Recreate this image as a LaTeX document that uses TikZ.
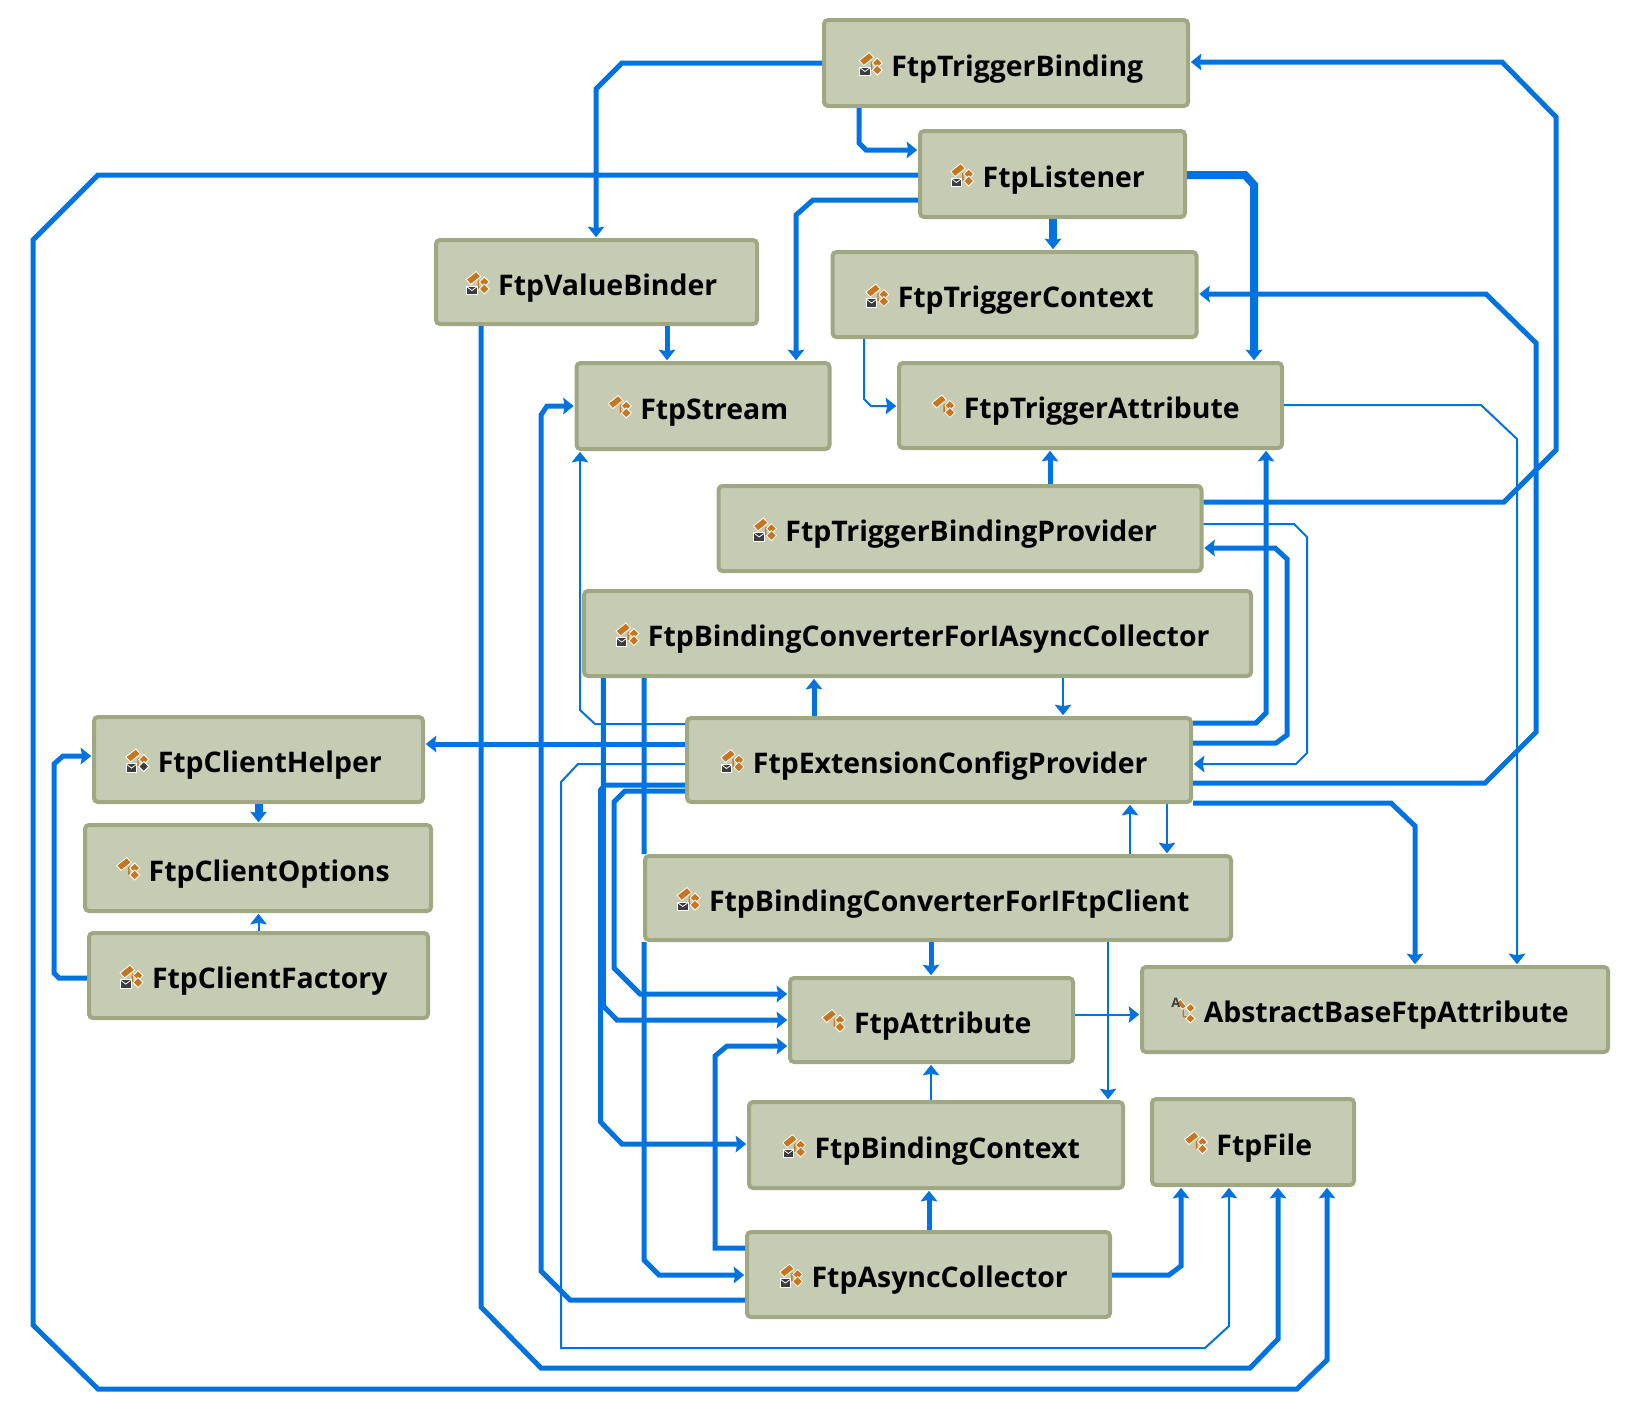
\documentclass[tikz,border=0pt]{standalone}
\usepackage{fontspec}
\setmainfont{Open Sans}
\usetikzlibrary{arrows.meta}
\definecolor{boxfill}{HTML}{C6CBB4}
\definecolor{boxline}{HTML}{A0A883}
\definecolor{linkblue}{HTML}{0073E0}
\definecolor{iconorange}{HTML}{C8761E}
\definecolor{icondark}{HTML}{3C3C3C}
\tikzset{
    classbox/.style={draw=boxline, fill=boxfill, line width=4pt, rounded corners=4pt,
        font=\fontsize{28.4}{32}\selectfont\bfseries, text height=26pt, text depth=0pt,
        execute at begin node={\hspace*{32.5pt}}, execute at end node={\hspace*{10pt}}},
    link/.style={draw=linkblue, line join=miter, shorten >=0.8pt,
        -{Stealth[length=10.5pt,width=16.5pt,inset=1.5pt]}},
    thinlink/.style={link, line width=2pt},
    midlink/.style={link, line width=5pt},
    heavylink/.style={link, line width=8pt},
    iconpart/.style={fill=iconorange, draw=white, line width=0.8pt},
    classicon/.pic={
        \draw[iconorange, line width=1.4pt] (12.7,-14) -- (12.7,-7) -- (18,-6) (12.7,-14) -- (18,-13);
        \path[iconpart] (0.5,-15.5) -- (10.5,-23.5) -- (15,-18.5) -- (5,-10.5) -- cycle;
        \path[iconpart] (18.5,-18) -- (23.5,-13) -- (18.5,-8) -- (13.5,-13) -- cycle;
        \path[iconpart] (18.5,-11) -- (23.5,-6) -- (18.5,-1) -- (13.5,-6) -- cycle;
    },
    mailicon/.pic={
        \path[fill=icondark, draw=white, line width=1pt] (1,-9) rectangle (11.5,-0.5);
        \draw[white, line width=0.8pt] (1.5,-8) -- (6.2,-4.5) -- (11,-8);
    },
    abstracticon/.pic={
        \draw[iconorange, line width=1.4pt] (12,-16) -- (12,-6) -- (18,-5) (12,-16) -- (19,-14);
        \path[iconpart] (9,-23.5) -- (15,-16) -- (11,-13) -- (6,-20) -- cycle;
        \path[iconpart] (19,-19) -- (24,-14.5) -- (19,-10) -- (14.5,-14.5) -- cycle;
        \path[iconpart] (19,-8.5) -- (24,-4) -- (19,0.5) -- (14.5,-4) -- cycle;
        \node[icondark, inner sep=0pt, font=\fontsize{13}{13}\selectfont\bfseries] at (4.5,-19.5) {A};
    },
}
\begin{document}
\begin{tikzpicture}[x=1pt, y=-1pt]
    \useasboundingbox (0,0) rectangle (1640,1409);

    % Classes
    \node[classbox, minimum width=364, minimum height=86] (triggerbinding) at (1006,63) {FtpTriggerBinding};
    \node[classbox, minimum width=265, minimum height=86] (listener) at (1052.5,174) {FtpListener};
    \node[classbox, minimum width=364, minimum height=85] (triggercontext) at (1014.5,294.5) {FtpTriggerContext};
    \node[classbox, minimum width=321, minimum height=84] (valuebinder) at (596.5,282) {FtpValueBinder};
    \node[classbox, minimum width=253, minimum height=86] (stream) at (703,406) {FtpStream};
    \node[classbox, minimum width=383, minimum height=85] (triggerattribute) at (1090.5,405.5) {FtpTriggerAttribute};
    \node[classbox, minimum width=483, minimum height=85] (bindingprovider) at (960,528.5) {FtpTriggerBindingProvider};
    \node[classbox, minimum width=667, minimum height=85] (asyncconverter) at (917.5,633.5) {FtpBindingConverterForIAsyncCollector};
    \node[classbox, minimum width=504, minimum height=84] (configprovider) at (939,760) {FtpExtensionConfigProvider};
    \node[classbox, minimum width=329, minimum height=85] (clienthelper) at (258.5,759.5) {FtpClientHelper};
    \node[classbox, minimum width=346, minimum height=86] (clientoptions) at (258,868) {FtpClientOptions};
    \node[classbox, minimum width=339, minimum height=85] (clientfactory) at (258.5,975.5) {FtpClientFactory};
    \node[classbox, minimum width=586, minimum height=84] (clientconverter) at (938,898) {FtpBindingConverterForIFtpClient};
    \node[classbox, minimum width=283, minimum height=84] (attribute) at (931.5,1020) {FtpAttribute};
    \node[classbox, minimum width=466, minimum height=85] (abstractbase) at (1375,1009.5) {AbstractBaseFtpAttribute};
    \node[classbox, minimum width=374, minimum height=86] (bindingcontext) at (936,1145) {FtpBindingContext};
    \node[classbox, minimum width=202, minimum height=86] (file) at (1253,1142) {FtpFile};
    \node[classbox, minimum width=363, minimum height=85] (collector) at (928.5,1274.5) {FtpAsyncCollector};

    % Icons
    \foreach \n in {triggerbinding,listener,triggercontext,valuebinder,stream,triggerattribute,bindingprovider,
        asyncconverter,configprovider,clienthelper,clientoptions,clientfactory,clientconverter,attribute,
        bindingcontext,file,collector}
        \pic at (\n.text) {classicon};
    \foreach \n in {triggerbinding,listener,triggercontext,valuebinder,bindingprovider,asyncconverter,
        configprovider,clienthelper,clientfactory,clientconverter,bindingcontext,collector}
        \pic at (\n.text) {mailicon};
    \pic at (abstractbase.text) {abstracticon};
    \path[fill=icondark, draw=white, line width=0.8pt] ([shift={(18.5,-11)}]clienthelper.text) -- ++(5,5) -- ++(-5,5) -- ++(-5,-5) -- cycle;

    % From FtpTriggerBinding and FtpListener
    \draw[midlink] (triggerbinding.west |- 0,63) -- (622,63) -- (596,89) -- (596,0 |- valuebinder.north);
    \draw[midlink] (859,0 |- triggerbinding.south) -- (859,143) -- (866,150) -- (listener.west |- 0,150);
    \draw[midlink] (listener.west |- 0,175) -- (98,175) -- (33,240) -- (33,1325) -- (98,1389) -- (1297,1389) -- (1327,1360) -- (1327,0 |- file.south);
    \draw[midlink] (listener.west |- 0,200) -- (813,200) -- (796,215) -- (796,0 |- stream.north);
    \draw[heavylink] (1053,0 |- listener.south) -- (1053,0 |- triggercontext.north);
    \draw[heavylink] (listener.east |- 0,175) -- (1245,175) -- (1254,185) -- (1254,0 |- triggerattribute.north);

    % From FtpValueBinder and FtpTriggerContext
    \draw[midlink] (667,0 |- valuebinder.south) -- (667,0 |- stream.north);
    \draw[midlink] (481,0 |- valuebinder.south) -- (481,1307) -- (541,1368) -- (1250,1368) -- (1278,1339) -- (1278,0 |- file.south);
    \draw[thinlink] (864,0 |- triggercontext.south) -- (864,399) -- (871,406) -- (triggerattribute.west |- 0,406);
    \draw[thinlink] (triggerattribute.east |- 0,405) -- (1481,405) -- (1517,439) -- (1517,0 |- abstractbase.north);

    % From FtpTriggerBindingProvider
    \draw[midlink] (1050,0 |- bindingprovider.north) -- (1050,0 |- triggerattribute.south);
    \draw[midlink] (bindingprovider.east |- 0,502) -- (1504,502) -- (1556,450) -- (1556,117) -- (1502,62) -- (triggerbinding.east |- 0,62);
    \draw[thinlink] (bindingprovider.east |- 0,524) -- (1294,524) -- (1307,537) -- (1307,753) -- (1296,764) -- (configprovider.east |- 0,764);

    % From FtpExtensionConfigProvider, east side
    \draw[midlink] (configprovider.east |- 0,743) -- (1276,743) -- (1287,735) -- (1287,559) -- (1275,548) -- (bindingprovider.east |- 0,548);
    \draw[midlink] (configprovider.east |- 0,723) -- (1256,723) -- (1266,713) -- (1266,0 |- triggerattribute.south);
    \draw[midlink] (configprovider.east |- 0,783) -- (1485,783) -- (1536,732) -- (1536,343) -- (1486,294) -- (triggercontext.east |- 0,294);
    \draw[midlink] (configprovider.east |- 0,803) -- (1391,803) -- (1415,826) -- (1415,0 |- abstractbase.north);

    % From FtpExtensionConfigProvider, west side
    \draw[thinlink] (configprovider.west |- 0,724) -- (595,724) -- (580,710) -- (580,0 |- stream.south);
    \draw[midlink] (configprovider.west |- 0,744) -- (clienthelper.east |- 0,744);
    \draw[thinlink] (configprovider.west |- 0,764) -- (578,764) -- (561,782) -- (561,1348) -- (1205,1348) -- (1229,1326) -- (1229,0 |- file.south);
    \draw[midlink] (configprovider.west |- 0,785) -- (605,785) -- (600.6,790) -- (600.6,1122) -- (622,1144) -- (bindingcontext.west |- 0,1144);
    \draw[midlink] (configprovider.west |- 0,791) -- (625,791) -- (614,802) -- (614,968) -- (640,994) -- (attribute.west |- 0,994);

    % Converters and FtpExtensionConfigProvider
    \draw[midlink] (603.3,0 |- asyncconverter.south) -- (603.3,1006) -- (617,1020) -- (attribute.west |- 0,1020);
    \draw[midlink] (644,0 |- asyncconverter.south) -- (644,0 |- clientconverter.north) (644,0 |- clientconverter.south) -- (644,1260) -- (659,1275) -- (collector.west |- 0,1275);
    \draw[thinlink] (1063,0 |- asyncconverter.south) -- (1063,0 |- configprovider.north);
    \draw[midlink] (814,0 |- configprovider.north) -- (814,0 |- asyncconverter.south);
    \draw[thinlink] (1130,0 |- clientconverter.north) -- (1130,0 |- configprovider.south);
    \draw[thinlink] (1167,0 |- configprovider.south) -- (1167,0 |- clientconverter.north);
    \draw[midlink] (931,0 |- clientconverter.south) -- (931,0 |- attribute.north);
    \draw[thinlink] (1108,0 |- clientconverter.south) -- (1108,0 |- bindingcontext.north);

    % From FtpAttribute, FtpBindingContext and FtpAsyncCollector
    \draw[thinlink] (attribute.east |- 0,1014.5) -- (abstractbase.west |- 0,1014.5);
    \draw[thinlink] (931,0 |- bindingcontext.north) -- (931,0 |- attribute.south);
    \draw[midlink] (929,0 |- collector.north) -- (929,0 |- bindingcontext.south);
    \draw[midlink] (collector.west |- 0,1248) -- (715,1248) -- (715,1056) -- (727,1046) -- (attribute.west |- 0,1046);
    \draw[midlink] (collector.west |- 0,1300) -- (570,1300) -- (541,1271) -- (541,415) -- (547,406) -- (stream.west |- 0,406);
    \draw[midlink] (collector.east |- 0,1275) -- (1169,1275) -- (1181,1266) -- (1181,0 |- file.south);

    % Client classes
    \draw[midlink] (clientfactory.west |- 0,978) -- (59,978) -- (54,973) -- (54,764) -- (63,756) -- (clienthelper.west |- 0,756);
    \draw[heavylink] (258.5,0 |- clienthelper.south) -- (258.5,0 |- clientoptions.north);
    \draw[thinlink] (258.5,0 |- clientfactory.north) -- (258.5,0 |- clientoptions.south);
\end{tikzpicture}
\end{document}
